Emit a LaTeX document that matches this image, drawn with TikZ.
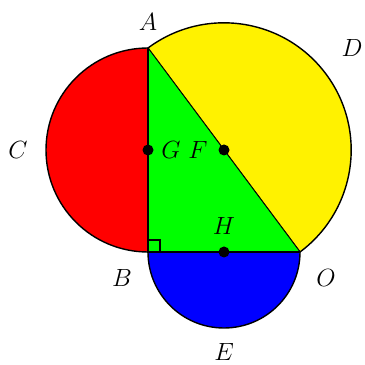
\documentclass[tikz,border=0pt]{standalone}
\usetikzlibrary{calc}
\begin{document}
\begin{tikzpicture}[x=1pt,y=1pt,
  edge/.style={draw=black,line width=1.4pt},
  dot/.style={circle,fill=black,inner sep=0pt,minimum size=11pt},
  lbl/.style={font=\fontsize{24}{28}\selectfont,inner sep=1pt}]
\useasboundingbox (0,0) rectangle (365,365);
\coordinate (A) at (148,317);
\coordinate (B) at (148,113);
\coordinate (O) at (300,113);
\coordinate (G) at (148,215);
\coordinate (F) at (224,215);
\coordinate (H) at (224,113);
% yellow semicircle on AO
\filldraw[fill=yellow,draw=black,line width=1.4pt] (O) arc[start angle=-53.3,end angle=126.7,radius=127.2] -- cycle;
% red semicircle on AB
\filldraw[fill=red,draw=black,line width=1.4pt] (A) arc[start angle=90,end angle=270,radius=102] -- cycle;
% blue semicircle on BO
\filldraw[fill=blue,draw=black,line width=1.4pt] (O) arc[start angle=0,end angle=-180,radius=76] -- cycle;
% green triangle
\fill[green] (A) -- (B) -- (O) -- cycle;
\draw[line width=0.7pt] (A) -- (O);
\draw[edge] (A) -- (B) -- (O);
% right angle mark
\draw[line width=1.4pt] ($(B)+(0,12)$) -- ++(12,0) -- ++(0,-12);
% dots
\node[dot] (g) at (G) {};
\node[dot] (f) at (F) {};
\node[dot] (h) at (H) {};
% labels
\node[lbl] (la) at (148,343) {$A$};
\node[lbl] (lb) at (122,87) {$B$};
\node[lbl] (lc) at (18,215) {$C$};
\node[lbl] (ld) at (352,317) {$D$};
\node[lbl] (le) at (224,13) {$E$};
\node[lbl] (lo) at (326,87) {$O$};
\node[lbl] (lg) at (171,215) {$G$};
\node[lbl] (lf) at (198,215) {$F$};
\node[lbl] (lh) at (224,139) {$H$};
\end{tikzpicture}
\end{document}
